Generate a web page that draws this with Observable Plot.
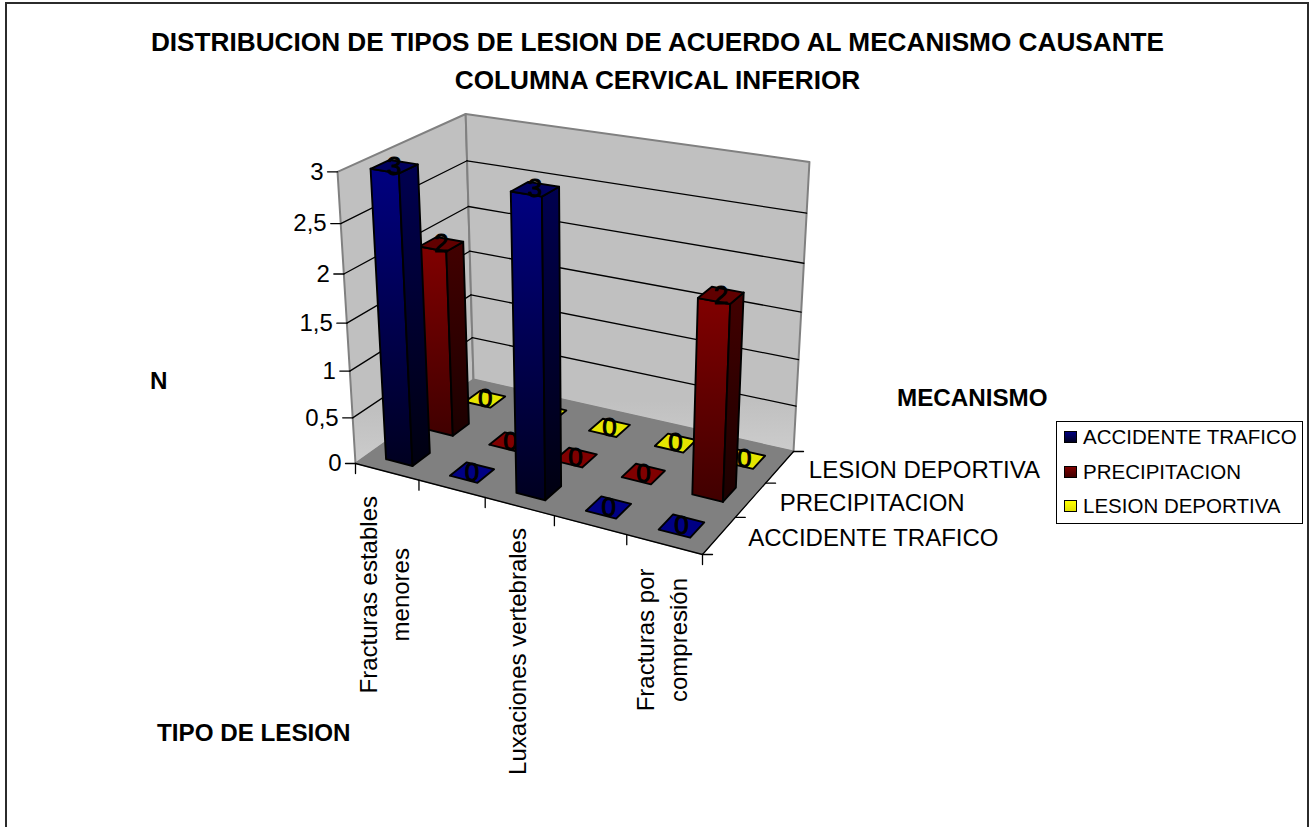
<!DOCTYPE html>
<html lang="es">
<head>
<meta charset="utf-8">
<script src="https://cdn.jsdelivr.net/npm/d3@7"></script>
<script src="https://cdn.jsdelivr.net/npm/@observablehq/plot@0.6"></script>
<style>
  html, body { margin: 0; padding: 0; background: #fff; }
  #page { position: relative; width: 1315px; height: 827px; overflow: hidden;
          font-family: "Liberation Sans", Arial, sans-serif; color: #000; }
  #frame { position: absolute; left: 5px; top: 2px; width: 1304px; height: 840px;
           border: 2px solid #2b2b2b; box-sizing: border-box; }
  #chart { position: absolute; left: 0; top: 0; }
  .title { position: absolute; left: 0; width: 1315px; text-align: center;
           font-weight: bold; font-size: 26.2px; line-height: 30px; white-space: nowrap; }
  .axis-title { position: absolute; font-weight: bold; font-size: 24.2px; line-height: 28px; white-space: nowrap; }
  #legend { position: absolute; left: 1056px; top: 421px; width: 247px; height: 103px;
            box-sizing: border-box; border: 1px solid #000; background: #fff; }
  .entry { position: absolute; left: 7px; height: 24px; white-space: nowrap;
           font-size: 20.5px; line-height: 24px; }
  .entry i { position: absolute; left: 0; top: 6px; width: 13px; height: 12px;
             box-sizing: border-box; border: 1px solid #000; }
  .entry span { position: absolute; left: 19px; }
</style>
</head>
<body>
<div id="page">
  <div id="frame"></div>
  <div id="chart"></div>
  <div class="title" style="top:27px">DISTRIBUCION DE TIPOS DE LESION DE ACUERDO AL MECANISMO CAUSANTE</div>
  <div class="title" style="top:65px">COLUMNA CERVICAL INFERIOR</div>
  <div class="axis-title" style="left:150px;top:367px">N</div>
  <div class="axis-title" style="left:897px;top:384px">MECANISMO</div>
  <div class="axis-title" style="left:157px;top:719px">TIPO DE LESION</div>
  <div id="legend"></div>
</div>
<script>
// Injury types along the front axis; two of the five carry no printed name.
const categories = ["Fracturas estables\nmenores", "", "Luxaciones vertebrales", "", "Fracturas por\ncompresión"];
const mechanisms = ["ACCIDENTE TRAFICO", "PRECIPITACION", "LESION DEPORTIVA"];
const accidenteTrafico = [3, 0, 3, 0, 0];
const precipitacion = [2, 0, 0, 0, 2];
const lesionDeportiva = [0, 0, 0, 0, 0];
const seriesValues = [accidenteTrafico, precipitacion, lesionDeportiva];
const valueTicks = [0, 0.5, 1, 1.5, 2, 2.5, 3];
const valueMax = 3;

// Face colours per mechanism: front, side, top, and top of an empty column.
const palette = [
  {id: "blue", front: ["#000080", "#000020"], side: ["#000050", "#000010"], top: "#00005e", flat: "#000084"},
  {id: "red", front: ["#800000", "#400000"], side: ["#420000", "#1c0000"], top: "#600000", flat: "#800000"},
  {id: "yellow", front: ["#ffff00", "#a0a000"], side: ["#a0a000", "#606000"], top: "#d0d000", flat: "#e6e600"}
];

// Oblique view of the chart box: a projective map from box coordinates
// (u along the categories, v into the depth, w upward, each 0..1) to the plane.
const view = {
  floor: {a: [355, 463], b: [702, 554], c: [793, 451], d: [473, 379]},
  upX: -42.3, upY: -304, upW: -0.0722
};
const perspective = (() => {
  const {a, b, c, d} = view.floor;
  const det = (p, q) => p[0] * q[1] - p[1] * q[0];
  const s = [a[0] - b[0] + c[0] - d[0], a[1] - b[1] + c[1] - d[1]];
  const d1 = [b[0] - c[0], b[1] - c[1]];
  const d2 = [d[0] - c[0], d[1] - c[1]];
  const g = det(s, d2) / det(d1, d2);
  const h = det(d1, s) / det(d1, d2);
  return (u, v, w) => {
    const q = 1 + g * u + h * v + view.upW * w;
    return [
      (a[0] + (b[0] - a[0] + g * b[0]) * u + (d[0] - a[0] + h * d[0]) * v + view.upX * w) / q,
      (a[1] + (b[1] - a[1] + g * b[1]) * u + (d[1] - a[1] + h * d[1]) * v + view.upY * w) / q
    ];
  };
})();

const nU = categories.length, nV = mechanisms.length;
const columnShare = 0.42;

// A closed outline drawn with the line mark.
const polygon = (points, {fill = "none", stroke = "#000", strokeWidth = 1.9} = {}) =>
  Plot.line([...points, points[0]], {x: "0", y: "1", fill, stroke, strokeWidth, curve: "linear"});
const segment = (p, q, stroke = "#000", strokeWidth = 1.3) =>
  Plot.line([p, q], {x: "0", y: "1", stroke, strokeWidth, curve: "linear"});

// Vertical gradients used by walls and column faces.
const gradient = (id, stops) => `<linearGradient id="${id}" x1="0" y1="0" x2="0" y2="1">${
  stops.map(([o, c]) => `<stop offset="${o}" stop-color="${c}"/>`).join("")}</linearGradient>`;
const defs = () => {
  const g = d3.create("svg:defs");
  g.html(
    gradient("wall", [[0, "#c0c0c0"], [0.85, "#c0c0c0"], [1, "#cccccc"]]) +
    palette.map(p =>
      gradient(`${p.id}-front`, [[0, p.front[0]], [1, p.front[1]]]) +
      gradient(`${p.id}-side`, [[0, p.side[0]], [1, p.side[1]]])
    ).join("")
  );
  return g.node();
};

// Walls, floor, grid and axes.
const box = [
  polygon([perspective(0, 0, 0), perspective(0, 1, 0), perspective(0, 1, 1), perspective(0, 0, 1)],
    {fill: "url(#wall)", stroke: "#808080", strokeWidth: 2}),
  polygon([perspective(0, 1, 0), perspective(1, 1, 0), perspective(1, 1, 1), perspective(0, 1, 1)],
    {fill: "url(#wall)", stroke: "#808080", strokeWidth: 2}),
  polygon([perspective(0, 0, 0), perspective(1, 0, 0), perspective(1, 1, 0), perspective(0, 1, 0)],
    {fill: "#808080", stroke: "#808080", strokeWidth: 1}),
  ...valueTicks.filter(t => t > 0 && t < valueMax).flatMap(t => [
    segment(perspective(0, 0, t / valueMax), perspective(0, 1, t / valueMax)),
    segment(perspective(0, 1, t / valueMax), perspective(1, 1, t / valueMax))
  ]),
  segment(perspective(0, 0, 0), perspective(1, 0, 0)),
  segment(perspective(1, 0, 0), perspective(1, 1, 0))
];

// Axis ticks are offset in pixels from their anchor on the box.
const valueRows = valueTicks.map(t => ({t, p: perspective(0, 0, t / valueMax)}));
const catEdges = d3.range(nU + 1).map(i => perspective(i / nU, 0, 0));
const depthEdges = d3.range(nV + 1).map(j => perspective(1, j / nV, 0));
const ticks = [
  ...valueRows.map(d => segment(d.p, [d.p[0] - 10, d.p[1]])),
  ...catEdges.map(p => segment(p, [p[0], p[1] + 10])),
  ...depthEdges.map(p => segment(p, [p[0] + 10, p[1]]))
];

const labelFont = {fontFamily: "Liberation Sans, Arial, sans-serif", fontSize: 24, fill: "#000", stroke: "none"};
const axisLabels = [
  Plot.text(valueRows, {
    x: d => d.p[0] - 14, y: d => d.p[1],
    text: d => String(d.t).replace(".", ","), textAnchor: "end", ...labelFont
  }),
  Plot.text(categories.map((name, i) => ({name, i, p: perspective((i + 0.5) / nU, 0, 0)})).filter(d => d.name), {
    x: d => d.p[0] - 4,
    y: d => d.p[1] + 24 + 5.5 * d3.max(d.name.split("\n"), l => l.length),
    text: "name", rotate: -90, textAnchor: "middle", lineHeight: 1.35, ...labelFont
  }),
  Plot.text(mechanisms.map((name, j) => ({name, p: perspective(1, (j + 0.5) / nV, 0)})), {
    x: d => d.p[0] + 29, y: d => d.p[1] + 3,
    text: "name", textAnchor: "start", ...labelFont
  })
];

// Columns are painted from the back row forward and left to right,
// each with its value label so nearer columns can cover it.
const columns = d3.range(nV - 1, -1, -1).flatMap(j => d3.range(nU).flatMap(i => {
  const value = seriesValues[j][i];
  const w = value / valueMax;
  const style = palette[j];
  const half = columnShare / 2;
  const u0 = (i + 0.5 - half) / nU, u1 = (i + 0.5 + half) / nU;
  const v0 = (j + 0.5 - half) / nV, v1 = (j + 0.5 + half) / nV;
  const top = [perspective(u0, v0, w), perspective(u1, v0, w), perspective(u1, v1, w), perspective(u0, v1, w)];
  const centre = perspective((i + 0.5) / nU, (j + 0.5) / nV, w);
  const faces = value > 0 ? [
    polygon([perspective(u0, v0, 0), perspective(u1, v0, 0), top[1], top[0]], {fill: `url(#${style.id}-front)`}),
    polygon([perspective(u1, v0, 0), perspective(u1, v1, 0), top[2], top[1]], {fill: `url(#${style.id}-side)`}),
    polygon(top, {fill: style.top})
  ] : [polygon(top, {fill: style.flat})];
  return [
    ...faces,
    Plot.text([{centre, value}], {
      x: d => d.centre[0], y: d => d.centre[1], text: d => String(d.value), ...labelFont,
      fontSize: 26, stroke: "#000", strokeWidth: 1, textAnchor: "middle"
    })
  ];
}));

const chart = Plot.plot({
  width: 1315, height: 827,
  margin: 0,
  style: {background: "transparent"},
  x: {domain: [0, 1315], range: [0, 1315], axis: null},
  y: {domain: [0, 827], range: [0, 827], axis: null},
  marks: [defs, ...box, ...ticks, ...axisLabels, ...columns]
});
document.getElementById("chart").append(chart);

// Legend swatches use the same front-face colours as the columns.
const legend = d3.select("#legend");
mechanisms.forEach((name, j) => {
  const e = legend.append("div").attr("class", "entry").style("top", `${3 + j * 34.5}px`);
  const [c0, c1] = palette[j].front;
  e.append("i").style("background", `linear-gradient(${c0}, ${j === 2 ? "#e0e000" : c1})`);
  e.append("span").text(name);
});
</script>
</body>
</html>
